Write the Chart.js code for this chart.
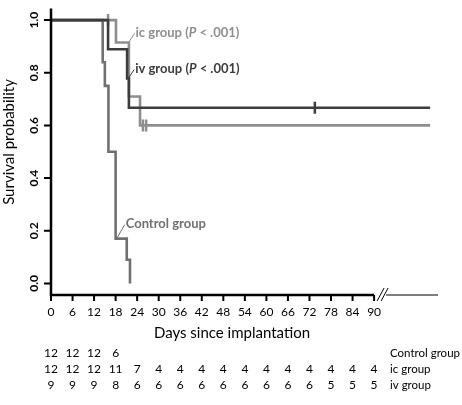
<!DOCTYPE html>
<html>
<head>
<title>Survival after implantation</title>
<style>
  body { margin: 0; background: #fff; }
</style>
</head>
<body>
<canvas id="myChart" width="462" height="405"></canvas>
<script src="https://cdn.jsdelivr.net/npm/chart.js"></script>
<script>
// Kaplan-Meier steps: day of event and survival after it
const controlDays = [0, 14.4, 15.0, 16.0, 18.0, 21.1, 22.0];
const controlSurv = [1, 0.84, 0.75, 0.5, 0.17, 0.09, 0];
const icDays = [0, 18.1, 21.7, 24.8, 105.6];
const icSurv = [1, 0.915, 0.71, 0.6, 0.6];
const ivDays = [0, 15.9, 21.2, 21.7, 105.6];
const ivSurv = [1, 0.889, 0.778, 0.667, 0.667];

// censored animals
const icCensorDays = [15.9, 25.6, 26.5];
const icCensorSurv = [1, 0.6, 0.6];
const ivCensorDays = [73.5];
const ivCensorSurv = [0.667];

const xTicks = [0, 6, 12, 18, 24, 30, 36, 42, 48, 54, 60, 66, 72, 78, 84, 90];
const yTicks = [0, 0.2, 0.4, 0.6, 0.8, 1.0];

// number at risk
const riskNames = ['Control group', 'ic group', 'iv group'];
const riskControl = [12, 12, 12, 6];
const riskIc = [12, 12, 12, 11, 7, 4, 4, 4, 4, 4, 4, 4, 4, 4, 4, 4];
const riskIv = [9, 9, 9, 8, 6, 6, 6, 6, 6, 6, 6, 6, 6, 5, 5, 5];

const colControl = '#707070';
const colIc = '#8e8e8e';
const colIv = '#3c3c3c';
const FONT = 'Lato, "Open Sans", sans-serif';

function pts(xs, ys) {
  return xs.map((d, i) => ({x: d, y: ys[i]}));
}

function richText(ctx, parts, x, y) {
  // parts: [text, italic]
  parts.forEach(p => {
    ctx.font = (p[1] ? 'italic ' : '') + 'bold 13px ' + FONT;
    ctx.fillText(p[0], x, y);
    x += ctx.measureText(p[0]).width;
  });
}

const extras = {
  id: 'extras',
  afterDraw(chart) {
    const ctx = chart.ctx;
    const sx = chart.scales.x, sy = chart.scales.y;
    const area = chart.chartArea;
    const left = area.left, bottom = area.bottom;
    const x90 = sx.getPixelForValue(90);
    ctx.save();

    // axes
    ctx.strokeStyle = '#000';
    ctx.lineWidth = 2.5;
    ctx.beginPath();
    ctx.moveTo(left, area.top);
    ctx.lineTo(left, bottom);
    ctx.lineTo(x90, bottom);
    ctx.stroke();

    ctx.lineWidth = 2;
    ctx.beginPath();
    xTicks.forEach(v => {
      const px = sx.getPixelForValue(v);
      ctx.moveTo(px, bottom);
      ctx.lineTo(px, bottom + 6);
    });
    yTicks.forEach(v => {
      const py = sy.getPixelForValue(v);
      ctx.moveTo(left, py);
      ctx.lineTo(left - 7, py);
    });
    ctx.stroke();

    // axis break and tail
    ctx.lineWidth = 1;
    ctx.beginPath();
    ctx.moveTo(x90 + 3, bottom + 6); ctx.lineTo(x90 + 10, bottom - 7);
    ctx.moveTo(x90 + 7, bottom + 6); ctx.lineTo(x90 + 14, bottom - 7);
    ctx.moveTo(x90 + 12, bottom); ctx.lineTo(area.right, bottom);
    ctx.stroke();

    // tick labels
    ctx.fillStyle = '#000';
    ctx.textAlign = 'center';
    ctx.textBaseline = 'middle';
    ctx.font = '12px ' + FONT;
    xTicks.forEach(v => ctx.fillText(String(v), sx.getPixelForValue(v), bottom + 17));

    ctx.font = 'bold 12px ' + FONT;
    yTicks.forEach(v => {
      ctx.save();
      ctx.translate(left - 17, sy.getPixelForValue(v));
      ctx.rotate(-Math.PI / 2);
      ctx.fillText(v.toFixed(1), 0, 0);
      ctx.restore();
    });

    // titles
    ctx.font = '15px ' + FONT;
    ctx.save();
    ctx.translate(9, 142);
    ctx.rotate(-Math.PI / 2);
    ctx.fillText('Survival probability', 0, 0);
    ctx.restore();
    ctx.fillText('Days since implantation', 232, 333);

    // at-risk table
    [riskControl, riskIc, riskIv].forEach((row, r) => {
      const ry = 353 + r * 16;
      ctx.font = '12px ' + FONT;
      ctx.textAlign = 'center';
      row.forEach((n, i) => ctx.fillText(String(n), sx.getPixelForValue(xTicks[i]), ry));
      ctx.font = '11.5px ' + FONT;
      ctx.textAlign = 'left';
      ctx.fillText(riskNames[r], 390, ry);
    });

    // curve labels with leader lines
    ctx.textAlign = 'left';
    ctx.lineWidth = 1;
    const labels = [
      {c: colIc, d: 21.6, s: 0.915, dx: 6, dy: -9, parts: [['ic group (', false], ['P', true], [' < .001)', false]]},
      {c: colIv, d: 21.5, s: 0.778, dx: 6, dy: -9, parts: [['iv group (', false], ['P', true], [' < .001)', false]]},
      {c: colControl, d: 18.3, s: 0.17, dx: 8, dy: -14, parts: [['Control group', false]]}
    ];
    labels.forEach(l => {
      const px = sx.getPixelForValue(l.d), py = sy.getPixelForValue(l.s);
      ctx.strokeStyle = l.c;
      ctx.fillStyle = l.c;
      ctx.beginPath();
      ctx.moveTo(px, py);
      ctx.lineTo(px + l.dx, py + l.dy);
      ctx.stroke();
      richText(ctx, l.parts, px + l.dx + 1, py + l.dy - 1);
    });
    ctx.restore();
  }
};

const lineSet = (data, color) => ({
  type: 'line',
  data: data,
  stepped: true,
  borderColor: color,
  backgroundColor: color,
  borderWidth: 2.6,
  pointRadius: 0,
  fill: false
});
const censorSet = (data, color) => ({
  type: 'scatter',
  data: data,
  pointStyle: 'line',
  rotation: 90,
  pointRadius: 6,
  pointBorderWidth: 2.5,
  borderColor: color,
  backgroundColor: color,
  showLine: false
});

new Chart(document.getElementById('myChart'), {
  type: 'line',
  data: {
    datasets: [
      lineSet(pts(ivDays, ivSurv), colIv),
      censorSet(pts(ivCensorDays, ivCensorSurv), colIv),
      lineSet(pts(icDays, icSurv), colIc),
      censorSet(pts(icCensorDays, icCensorSurv), colIc),
      lineSet(pts(controlDays, controlSurv), colControl)
    ]
  },
  options: {
    responsive: false,
    animation: false,
    layout: {padding: {left: 51, right: 24, top: 0, bottom: 110}},
    plugins: {legend: {display: false}, tooltip: {enabled: false}},
    scales: {
      x: {type: 'linear', display: false, min: 0, max: 107.8},
      y: {type: 'linear', display: false, min: -0.044, max: 1.044}
    }
  },
  plugins: [extras]
});
</script>
</body>
</html>
